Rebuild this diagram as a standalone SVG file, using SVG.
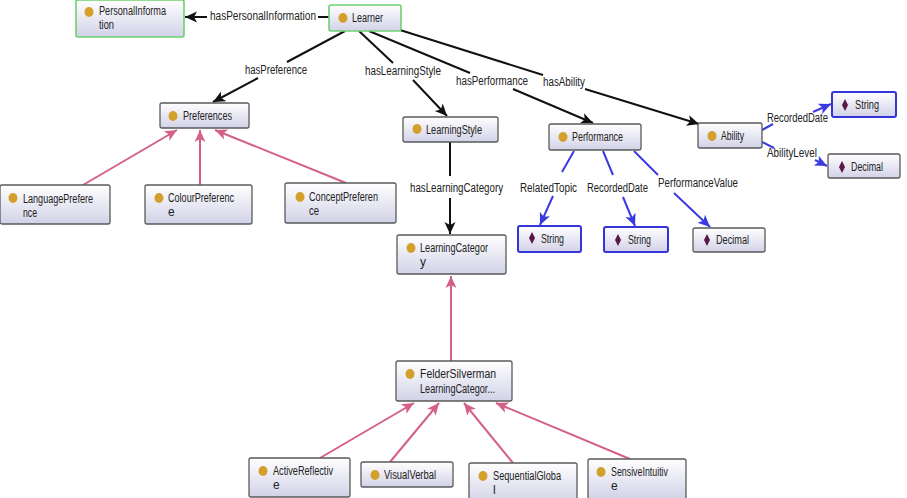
<svg xmlns="http://www.w3.org/2000/svg" width="907" height="498" viewBox="0 0 907 498">
<style>
.n{fill:url(#g);stroke:#5a5a5a;stroke-width:1.3}
.ng{fill:url(#g);stroke:#6fd06f;stroke-width:1.6}
.nb{fill:url(#g);stroke:#3434d8;stroke-width:2}
.t{font-family:"Liberation Sans",Arial,sans-serif;font-size:12px;fill:#222}
.c{fill:#d4a02c}
.d{fill:#5a1848}
.k{stroke:#111;stroke-width:2;fill:none}
.b{stroke:#3a3ae0;stroke-width:2;fill:none}
.p{stroke:#d46088;stroke-width:2;fill:none}
</style>
<defs>
<linearGradient id="g" x1="0" y1="0" x2="0" y2="1"><stop offset="0" stop-color="#ffffff"/><stop offset="1" stop-color="#d2d2e8"/></linearGradient>
<marker id="ak" markerUnits="userSpaceOnUse" markerWidth="13" markerHeight="13" refX="12" refY="6.5" orient="auto"><path d="M0,1 L12,6.5 L0,12 L3,6.5 z" fill="#111"/></marker>
<marker id="ab" markerUnits="userSpaceOnUse" markerWidth="13" markerHeight="13" refX="12" refY="6.5" orient="auto"><path d="M0,1 L12,6.5 L0,12 L3,6.5 z" fill="#3a3ae0"/></marker>
<marker id="ap" markerUnits="userSpaceOnUse" markerWidth="13" markerHeight="13" refX="12" refY="6.5" orient="auto"><path d="M0,1 L12,6.5 L0,12 L3,6.5 z" fill="#d46088"/></marker>
</defs>
<rect width="907" height="498" fill="#ffffff"/>
<g id="connectors">
<line class="k" x1="329" y1="17" x2="318" y2="17"/><line class="k" x1="207" y1="17" x2="185" y2="17" marker-end="url(#ak)"/>
<text class="t" x="210" y="20" textLength="106" lengthAdjust="spacingAndGlyphs">hasPersonalInformation</text>
<line class="k" x1="345" y1="31" x2="287" y2="62"/><line class="k" x1="258" y1="78" x2="213" y2="102" marker-end="url(#ak)"/>
<text class="t" x="245" y="74" textLength="62" lengthAdjust="spacingAndGlyphs">hasPreference</text>
<line class="k" x1="359" y1="31" x2="393" y2="63"/><line class="k" x1="413" y1="80" x2="447" y2="116" marker-end="url(#ak)"/>
<text class="t" x="365" y="75" textLength="76" lengthAdjust="spacingAndGlyphs">hasLearningStyle</text>
<line class="k" x1="369" y1="31" x2="470" y2="73"/><line class="k" x1="513" y1="89" x2="593" y2="123" marker-end="url(#ak)"/>
<text class="t" x="456" y="85" textLength="72" lengthAdjust="spacingAndGlyphs">hasPerformance</text>
<line class="k" x1="400" y1="30" x2="543" y2="75"/><line class="k" x1="585" y1="89" x2="699" y2="124" marker-end="url(#ak)"/>
<text class="t" x="543" y="86" textLength="42" lengthAdjust="spacingAndGlyphs">hasAbility</text>
<line class="k" x1="450" y1="142" x2="450" y2="176"/><line class="k" x1="450" y1="198" x2="450" y2="234" marker-end="url(#ak)"/>
<text class="t" x="410" y="192" textLength="93" lengthAdjust="spacingAndGlyphs">hasLearningCategory</text>
<line class="b" x1="574" y1="151" x2="562" y2="172"/><line class="b" x1="553" y1="196" x2="540" y2="225" marker-end="url(#ab)"/>
<text class="t" x="520" y="192" textLength="57" lengthAdjust="spacingAndGlyphs">RelatedTopic</text>
<line class="b" x1="603" y1="151" x2="613" y2="175"/><line class="b" x1="623" y1="197" x2="635" y2="226" marker-end="url(#ab)"/>
<text class="t" x="587" y="192" textLength="61" lengthAdjust="spacingAndGlyphs">RecordedDate</text>
<line class="b" x1="634" y1="151" x2="658" y2="175"/><line class="b" x1="674" y1="193" x2="710" y2="227" marker-end="url(#ab)"/>
<text class="t" x="658" y="187" textLength="80" lengthAdjust="spacingAndGlyphs">PerformanceValue</text>
<line class="b" x1="762" y1="130" x2="773" y2="124"/><line class="b" x1="813" y1="112" x2="831" y2="104" marker-end="url(#ab)"/>
<text class="t" x="767" y="122" textLength="61" lengthAdjust="spacingAndGlyphs">RecordedDate</text>
<line class="b" x1="762" y1="142" x2="774" y2="148"/><line class="b" x1="815" y1="160" x2="827" y2="166" marker-end="url(#ab)"/>
<text class="t" x="767" y="157" textLength="50" lengthAdjust="spacingAndGlyphs">AbilityLevel</text>
<line class="p" x1="83" y1="185" x2="177" y2="130" marker-end="url(#ap)"/>
<line class="p" x1="200" y1="185" x2="200" y2="130" marker-end="url(#ap)"/>
<line class="p" x1="346" y1="183" x2="215" y2="130" marker-end="url(#ap)"/>
<line class="p" x1="451" y1="361" x2="451" y2="276" marker-end="url(#ap)"/>
<line class="p" x1="320" y1="458" x2="414" y2="403" marker-end="url(#ap)"/>
<line class="p" x1="390" y1="462" x2="439" y2="403" marker-end="url(#ap)"/>
<line class="p" x1="513" y1="463" x2="464" y2="403" marker-end="url(#ap)"/>
<line class="p" x1="630" y1="459" x2="496" y2="403" marker-end="url(#ap)"/>
</g>
<g id="PersonalInformation"><rect class="ng" x="76" y="0" width="108" height="37" rx="2"/><ellipse class="c" cx="89" cy="12" rx="4.5" ry="5"/><text class="t" x="99" y="15" textLength="67" lengthAdjust="spacingAndGlyphs">PersonalInforma</text><text class="t" x="99" y="29" textLength="15" lengthAdjust="spacingAndGlyphs">tion</text></g>
<g id="Learner"><rect class="ng" x="329" y="5" width="72" height="26" rx="2"/><ellipse class="c" cx="343" cy="18" rx="4.5" ry="5"/><text class="t" x="352" y="22" textLength="31" lengthAdjust="spacingAndGlyphs">Learner</text></g>
<g id="Preferences"><rect class="n" x="160" y="103" width="89" height="25" rx="2"/><ellipse class="c" cx="173" cy="116" rx="4.5" ry="5"/><text class="t" x="183" y="120" textLength="49" lengthAdjust="spacingAndGlyphs">Preferences</text></g>
<g id="LanguagePreference"><rect class="n" x="0" y="185" width="110" height="39" rx="2"/><ellipse class="c" cx="13" cy="198" rx="4.5" ry="5"/><text class="t" x="23" y="203" textLength="70" lengthAdjust="spacingAndGlyphs">LanguagePrefere</text><text class="t" x="23" y="217" textLength="14" lengthAdjust="spacingAndGlyphs">nce</text></g>
<g id="ColourPreference"><rect class="n" x="145" y="185" width="107" height="39" rx="2"/><ellipse class="c" cx="159" cy="198" rx="4.5" ry="5"/><text class="t" x="168" y="202" textLength="66" lengthAdjust="spacingAndGlyphs">ColourPreferenc</text><text class="t" x="168" y="216">e</text></g>
<g id="ConceptPreference"><rect class="n" x="285" y="183" width="111" height="40" rx="2"/><ellipse class="c" cx="300" cy="197" rx="4.5" ry="5"/><text class="t" x="309" y="201" textLength="69" lengthAdjust="spacingAndGlyphs">ConceptPreferen</text><text class="t" x="309" y="215" textLength="10" lengthAdjust="spacingAndGlyphs">ce</text></g>
<g id="LearningStyle"><rect class="n" x="403" y="117" width="95" height="25" rx="2"/><ellipse class="c" cx="417" cy="129" rx="4.5" ry="5"/><text class="t" x="426" y="134" textLength="56" lengthAdjust="spacingAndGlyphs">LearningStyle</text></g>
<g id="Performance"><rect class="n" x="549" y="124" width="92" height="26" rx="2"/><ellipse class="c" cx="563" cy="137" rx="4.5" ry="5"/><text class="t" x="572" y="141" textLength="51" lengthAdjust="spacingAndGlyphs">Performance</text></g>
<g id="Ability"><rect class="n" x="698" y="123" width="64" height="25" rx="2"/><ellipse class="c" cx="712" cy="136" rx="4.5" ry="5"/><text class="t" x="721" y="140" textLength="23" lengthAdjust="spacingAndGlyphs">Ability</text></g>
<g id="String1"><rect class="nb" x="832" y="92" width="64" height="25" rx="2"/><path class="d" d="M845,99 L848,105 L845,111 L842,105 z"/><text class="t" x="855" y="109" textLength="24" lengthAdjust="spacingAndGlyphs">String</text></g>
<g id="Decimal1"><rect class="n" x="828" y="154" width="72" height="24" rx="2"/><path class="d" d="M842,161 L845,167 L842,173 L839,167 z"/><text class="t" x="851" y="171" textLength="32" lengthAdjust="spacingAndGlyphs">Decimal</text></g>
<g id="String2"><rect class="nb" x="518" y="226" width="63" height="26" rx="2"/><path class="d" d="M532,232 L535,238 L532,244 L529,238 z"/><text class="t" x="541" y="243" textLength="23" lengthAdjust="spacingAndGlyphs">String</text></g>
<g id="String3"><rect class="nb" x="604" y="227" width="64" height="25" rx="2"/><path class="d" d="M618,234 L621,240 L618,246 L615,240 z"/><text class="t" x="628" y="244" textLength="23" lengthAdjust="spacingAndGlyphs">String</text></g>
<g id="Decimal2"><rect class="n" x="693" y="228" width="72" height="24" rx="2"/><path class="d" d="M707,234 L710,240 L707,246 L704,240 z"/><text class="t" x="716" y="244" textLength="33" lengthAdjust="spacingAndGlyphs">Decimal</text></g>
<g id="LearningCategory"><rect class="n" x="397" y="235" width="109" height="39" rx="2"/><ellipse class="c" cx="411" cy="248" rx="4.5" ry="5"/><text class="t" x="420" y="252" textLength="68" lengthAdjust="spacingAndGlyphs">LearningCategor</text><text class="t" x="420" y="266">y</text></g>
<g id="FelderSilverman"><rect class="n" x="396" y="361" width="116" height="40" rx="2"/><ellipse class="c" cx="410" cy="374" rx="4.5" ry="5"/><text class="t" x="420" y="378" textLength="76" lengthAdjust="spacingAndGlyphs">FelderSilverman</text><text class="t" x="420" y="393" textLength="75" lengthAdjust="spacingAndGlyphs">LearningCategor...</text></g>
<g id="ActiveReflective"><rect class="n" x="249" y="458" width="101" height="39" rx="2"/><ellipse class="c" cx="263" cy="471" rx="4.5" ry="5"/><text class="t" x="273" y="475" textLength="60" lengthAdjust="spacingAndGlyphs">ActiveReflectiv</text><text class="t" x="273" y="489">e</text></g>
<g id="VisualVerbal"><rect class="n" x="361" y="462" width="92" height="25" rx="2"/><ellipse class="c" cx="375" cy="475" rx="4.5" ry="5"/><text class="t" x="384" y="479" textLength="52" lengthAdjust="spacingAndGlyphs">VisualVerbal</text></g>
<g id="SequentialGlobal"><rect class="n" x="469" y="463" width="108" height="40" rx="2"/><ellipse class="c" cx="483" cy="476" rx="4.5" ry="5"/><text class="t" x="493" y="480" textLength="68" lengthAdjust="spacingAndGlyphs">SequentialGloba</text><text class="t" x="493" y="494">l</text></g>
<g id="SensiveIntuitive"><rect class="n" x="588" y="459" width="98" height="40" rx="2"/><ellipse class="c" cx="601" cy="472" rx="4.5" ry="5"/><text class="t" x="611" y="476" textLength="57" lengthAdjust="spacingAndGlyphs">SensiveIntuitiv</text><text class="t" x="611" y="490">e</text></g>
</svg>
